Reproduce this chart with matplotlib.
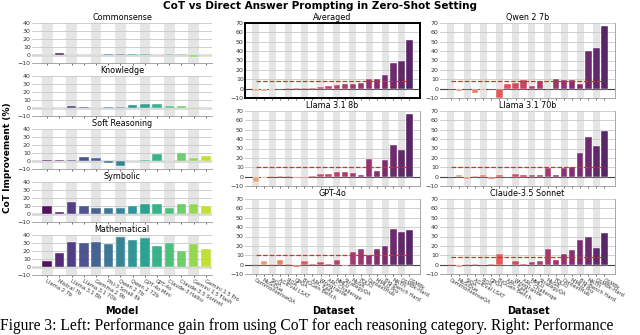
import numpy as np
import matplotlib
matplotlib.use('Agg')
import matplotlib.pyplot as plt
import seaborn as sns

# left side: per-category gain for each model
models = ["Llama 2 7b", "Mistral 7b", "Llama 3.1 8b", "Llama 3.1 70b", "Gemma 2 9b",
          "Phi-3 Small 8k", "Qwen 2 7b", "Qwen 2 72b", "GPT-4o Mini", "GPT-4o",
          "Claude-3 Haiku", "Claude-3.5 Sonnet", "Gemini 1.5 Flash", "Gemini 1.5 Pro"]
categories = ["Commonsense", "Knowledge", "Soft Reasoning", "Symbolic", "Mathematical"]
commonsense = [0.0, 3.0, 0.5, 0.0, 0.5, 1.0, 1.5, 1.5, 1.5, 0.0, 1.0, 1.0, -2.5, -1.5]
knowledge = [0.0, 0.5, 2.0, 1.5, 0.0, 1.5, 1.0, 3.5, 5.0, 5.0, 2.0, 3.0, -1.0, -0.5]
soft_reasoning = [1.5, 1.5, 1.0, 5.0, 4.0, -2.5, -6.0, 0.5, 1.5, 8.5, -0.5, 10.5, 3.5, 6.5]
symbolic = [9.5, 2.0, 15.0, 9.5, 8.0, 8.0, 7.5, 9.5, 12.5, 12.0, 8.0, 12.5, 12.0, 10.5]
mathematical = [7.5, 17.5, 31.0, 30.0, 31.0, 29.0, 37.5, 34.0, 36.5, 26.5, 30.0, 20.0, 28.5, 22.5]

# right side: per-dataset gain
datasets = ["CommonsenseQA", "MuSiQue", "SiQA", "AGIEval LSAT", "PiQA", "GPQA",
            "BiGGen Bench", "ARC Easy", "Winogrande", "ARC Challenge", "MMLU",
            "StrategyQA", "MuSR", "FOLIO", "ContextHub", "MMLU Pro",
            "Big-Bench Hard", "MATH", "GSM8k-Hard", "GSM8k"]
panels = ["Averaged", "Qwen 2 7b", "Llama 3.1 8b", "Llama 3.1 70b", "GPT-4o", "Claude-3.5 Sonnet"]
averaged = [-2.0, -2.0, -1.0, -0.3, 0.2, 0.3, 0.5, 0.8, 2.0, 2.5, 3.5, 4.5, 5.0, 6.0,
            10.0, 10.0, 15.0, 27.5, 30.0, 52.0]
qwen2_7b = [0.0, -3.0, -0.5, -4.5, -1.5, 0.0, -10.0, 5.0, 6.5, 9.0, 2.5, 8.5, 0.0, 10.0,
            9.0, 9.0, 5.0, 40.0, 43.0, 67.0]
llama31_8b = [-6.0, -1.5, 0.8, 1.2, 0.8, -1.5, -1.0, 0.3, 3.0, 3.0, 4.5, 4.5, 3.5, 1.5,
              19.0, 6.5, 17.5, 33.5, 28.5, 66.5]
llama31_70b = [-0.5, 1.5, -2.0, 0.3, 1.5, -2.5, 1.5, 0.0, 3.0, 1.5, 1.5, 1.5, 9.5, 1.5,
               9.5, 10.5, 25.0, 42.0, 32.5, 48.5]
gpt4o = [0.3, 3.5, 0.5, 4.5, 0.5, -2.5, 4.0, 1.0, 3.0, 0.5, 4.5, -1.0, 13.0, 17.0,
         10.5, 16.5, 20.0, 38.0, 35.0, 37.0]
claude35 = [1.0, -3.0, 1.0, 1.0, 0.0, 0.3, 11.5, 0.0, 3.5, 0.5, 3.0, 3.5, 16.5, 5.0,
            11.5, 16.0, 26.5, 29.5, 18.0, 34.0]
mean_lines = [8.5, 8.5, 10.0, 10.0, 10.0, 8.5]

W, H = 640, 335
fig = plt.figure(figsize=(6.4, 3.35), dpi=100)


def px_axes(x0, y0, w, h):
    return fig.add_axes([x0 / W, 1 - (y0 + h) / H, w / W, h / H])


def shade(ax, n):
    for i in range(0, n, 2):
        ax.axvspan(i - 0.43, i + 0.43, color='#e5e5e5', lw=0, zorder=0)


# ---- left column ----
left_vals = [commonsense, knowledge, soft_reasoning, symbolic, mathematical]
viridis = plt.cm.viridis(np.linspace(0.0, 0.9, len(models)))
tops = [23, 76, 129, 182, 235]
for k, (name, vals) in enumerate(zip(categories, left_vals)):
    ax = px_axes(32, tops[k], 180, 40)
    shade(ax, len(models))
    ax.axhline(0, color='#d4d4d4', lw=1.8, zorder=1)
    ax.bar(range(len(models)), vals, width=0.78, color=viridis, alpha=0.92,
           edgecolor='white', linewidth=0.3, zorder=3)
    ax.set_ylim(-10, 40)
    ax.set_yticks([-10, 0, 10, 20, 30, 40])
    ax.set_xlim(-1.25, 13.5)
    ax.grid(axis='y', color='#c8c8c8', lw=0.6, zorder=0)
    ax.set_axisbelow(True)
    for s in ['top', 'right', 'left']:
        ax.spines[s].set_visible(False)
    ax.spines['bottom'].set_color('#999999')
    ax.spines['bottom'].set_linewidth(0.6)
    ax.tick_params(axis='both', labelsize=4.5, length=1.5, width=0.5, pad=1,
                   colors='#333333')
    ax.tick_params(axis='y', length=0)
    ax.set_xticks(range(len(models)))
    ax.set_title(name, fontsize=5.8, pad=2)
    if k == len(categories) - 1:
        ax.set_xticklabels(models, rotation=-30, ha='left', rotation_mode='anchor',
                           fontsize=3.8)
    else:
        ax.set_xticklabels([])

fig.text(8 / W, 1 - 158 / H, 'CoT Improvement (%)', rotation=90, fontsize=6.5,
         fontweight='bold', ha='center', va='center')
fig.text(122 / W, 1 - 311 / H, 'Model', fontsize=7, fontweight='bold',
         ha='center', va='center')

# ---- right 3x2 grid ----
right_vals = [averaged, qwen2_7b, llama31_8b, llama31_70b, gpt4o, claude35]
flare = sns.color_palette('flare', len(datasets))
col_x = [245, 440]
row_y = [23, 111, 199]
for k, (name, vals) in enumerate(zip(panels, right_vals)):
    r, c = divmod(k, 2)
    ax = px_axes(col_x[c], row_y[r], 175, 75)
    shade(ax, len(datasets))
    ax.axhline(0, color='#444444', lw=0.8, zorder=2)
    ax.bar(range(len(datasets)), vals, width=0.8, color=flare, edgecolor='white',
           linewidth=0.3, zorder=3)
    ax.hlines(mean_lines[k], 0, len(datasets) - 1, colors='#e8262a', linestyles='--',
              lw=0.9, zorder=4)
    ax.set_ylim(-10, 70)
    ax.set_yticks(range(-10, 71, 10))
    ax.set_xlim(-1.35, 20.3)
    ax.grid(axis='y', color='#c8c8c8', lw=0.6, zorder=0)
    ax.set_axisbelow(True)
    ax.tick_params(axis='both', labelsize=4.5, length=1.5, width=0.5, pad=1,
                   colors='#333333')
    ax.tick_params(axis='y', length=0)
    ax.set_title(name, fontsize=5.8, pad=2)
    ax.set_xticks(range(len(datasets)))
    if k == 0:
        for s in ax.spines.values():
            s.set_color('black')
            s.set_linewidth(1.4)
    else:
        for s in ['top', 'left']:
            ax.spines[s].set_visible(False)
        for s in ['right', 'bottom']:
            ax.spines[s].set_color('#999999')
            ax.spines[s].set_linewidth(0.6)
    if r == 2:
        ax.set_xticklabels(datasets, rotation=-30, ha='left', rotation_mode='anchor',
                           fontsize=3.8)
        fig.text((col_x[c] + 88) / W, 1 - 311 / H, 'Dataset', fontsize=7,
                 fontweight='bold', ha='center', va='center')
    else:
        ax.set_xticklabels([])

fig.suptitle('CoT vs Direct Answer Prompting in Zero-Shot Setting', fontsize=7.5,
             fontweight='bold', y=1 - 1 / H, va='top')

fig.text(0.0, 1 / H, 'Figure 3: Left: Performance gain from using CoT for each reasoning '
         'category. Right: Performance', fontsize=11.2, family='Liberation Serif',
         ha='left', va='bottom')

fig.savefig('out.png', dpi=100)
